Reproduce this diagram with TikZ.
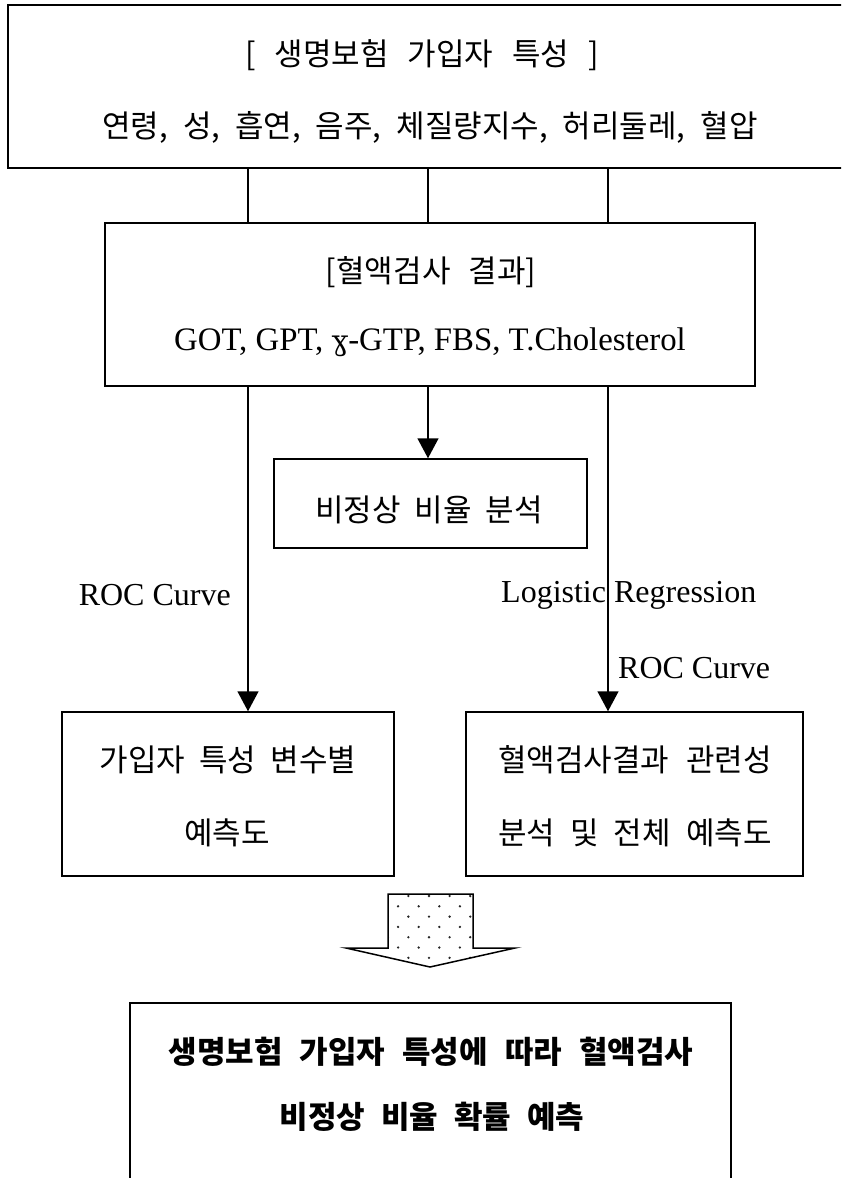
\documentclass[tikz,border=0pt]{standalone}
\usepackage{fontspec}
\setmainfont{Liberation Serif}
\newfontfamily\kr{Noto Sans CJK KR}
\newfontfamily\dvs{DejaVu Serif}
\usetikzlibrary{arrows.meta}
\newcommand\KR[2]{\kr\fontsize{31}{36}\selectfont\fontdimen2\font=#1\relax #2}
\newcommand\KRB[2]{\kr\bfseries\fontsize{31}{36}\selectfont\fontdimen2\font=#1\relax #2}
\newcommand\LT[1]{\fontsize{32}{36}\selectfont #1}
\begin{document}
\begin{tikzpicture}[x=1pt,y=-1pt,
  box/.style={draw, line width=1.5pt, rectangle, inner sep=0pt},
  lbl/.style={inner sep=0pt, anchor=center},
  conn/.style={line width=1.5pt},
  arr/.style={line width=1.5pt, -{Triangle[length=20pt,width=21pt]}},
  dotc/.style={fill=black!85}]
\useasboundingbox (0,0) rectangle (841,1178);
\clip (0,0) rectangle (841,1178);
% boxes
\node[box, minimum width=852pt, minimum height=163pt] (top) at (434,86.5) {};
\node[box, minimum width=650pt, minimum height=163pt] (mid) at (430,304.5) {};
\node[box, minimum width=313pt, minimum height=89pt] (small) at (430.5,503.5) {};
\node[box, minimum width=332pt, minimum height=164pt] (lbox) at (228,794) {};
\node[box, minimum width=337pt, minimum height=164pt] (rbox) at (634.5,794) {};
\node[box, minimum width=601pt, minimum height=197pt] (fin) at (430.5,1101.5) {};
% texts
\node[lbl] (t1) at (422,55) {\KR{19pt}{[ 생명보험 가입자 특성 ]}};
\node[lbl] (t2) at (430,127) {\KR{15pt}{연령, 성, 흡연, 음주, 체질량지수, 허리둘레, 혈압}};
\node[lbl] (m1) at (431,272) {\KR{18pt}{[혈액검사 결과]}};
\node[lbl] (m2) at (430,342) {\fontsize{32.8}{36}\selectfont GOT, GPT, {\dvs\fontsize{28}{32}\selectfont ɣ}-GTP, FBS, T.Cholesterol};
\node[lbl] (s1) at (429,510) {\KR{14pt}{비정상 비율 분석}};
\node[lbl, anchor=east] (roc1) at (231,595) {\LT{ROC Curve}};
\node[lbl, anchor=west] (lr) at (501,595) {\LT{Logistic Regression}};
\node[lbl, anchor=west] (roc2) at (618,668) {\LT{ROC Curve}};
\node[lbl] (l1) at (228,760) {\KR{14pt}{가입자 특성 변수별}};
\node[lbl] (l2) at (227,833) {\KR{14pt}{예측도}};
\node[lbl] (r1) at (635,760) {\KR{17pt}{혈액검사결과 관련성}};
\node[lbl] (r2) at (635,833) {\KR{15pt}{분석 및 전체 예측도}};
\node[lbl] (f1) at (431,1052) {\KRB{17pt}{생명보험 가입자 특성에 따라 혈액검사}};
\node[lbl] (f2) at (432,1117) {\KRB{16pt}{비정상 비율 확률 예측}};
% connectors
\coordinate (xl) at (248,0);
\coordinate (xc) at (428,0);
\coordinate (xr) at (608,0);
\draw[conn] (xl |- top.south) -- (xl |- mid.north);
\draw[conn] (xc |- top.south) -- (xc |- mid.north);
\draw[conn] (xr |- top.south) -- (xr |- mid.north);
\draw[arr] (xc |- mid.south) -- (xc |- small.north);
\draw[arr] (xl |- mid.south) -- (xl |- lbox.north);
\draw[arr] (xr |- mid.south) -- (xr |- rbox.north);
% block arrow
\begin{scope}
\clip (388,894) -- (473,894) -- (473,948) -- (515,948) -- (430,967) -- (346,948) -- (388,948) -- cycle;
\foreach \r in {0,...,7} {
  \foreach \c in {-3,...,3} {
    \fill[dotc] ({429 + \c*20.6 - mod(\r,2)*10.3}, {896 + \r*10.3}) circle (1.3pt);
  }
}
\end{scope}
\draw[line width=1.5pt, line join=miter] (388,894) -- (473,894) -- (473,948) -- (515,948) -- (430,967) -- (346,948) -- (388,948) -- cycle;
\end{tikzpicture}
\end{document}
